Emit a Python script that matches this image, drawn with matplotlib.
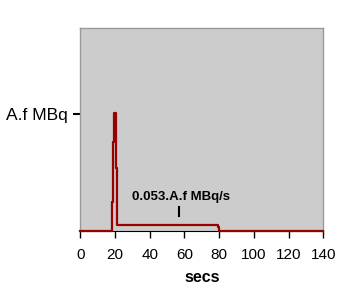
import matplotlib.pyplot as plt
import matplotlib

matplotlib.rcParams["font.family"] = ["Liberation Sans", "DejaVu Sans"]

# activity curve, in units of A.f MBq (step shape)
times = [0, 18.5, 19.1, 19.6, 20.6, 20.9, 79.2, 79.7, 140]
activity = [0, 0.25, 0.76, 1.01, 0.54, 0.053, 0.035, 0, 0]
x_ticks = [0, 20, 40, 60, 80, 100, 120, 140]
y_tick = 1.0
y_tick_label = "A.f MBq"
note_text = "0.053.A.f MBq/s"
note_x = 56.8

fig = plt.figure(figsize=(3.54, 3.04), dpi=100)
ax = fig.add_axes([0.2268, 0.2401, 0.6864, 0.6668])
ax.set_facecolor("#cccccc")

ax.plot(times, activity, drawstyle="steps-post", color="#990000", lw=1.6,
        clip_on=False, zorder=5)

ax.set_xlim(0, 140)
ax.set_ylim(0, 1.73)
ax.set_xticks(x_ticks)
ax.set_xticklabels([str(t) for t in x_ticks], fontsize=11)
ax.set_yticks([y_tick])
ax.set_yticklabels([y_tick_label], fontsize=12.5)
ax.tick_params(axis="x", direction="out", length=5, width=1, pad=7, colors="black")
ax.tick_params(axis="y", direction="out", length=5, width=1.5, pad=4, colors="black")

for side in ["left", "top", "right"]:
    ax.spines[side].set_color("#999999")
    ax.spines[side].set_linewidth(1)
ax.spines["bottom"].set_color("black")

ax.set_xlabel("secs", fontsize=11.5, fontweight="bold", labelpad=6)

ax.text(note_x + 1.3, 0.29, note_text, ha="center", va="center",
        fontsize=9.5, fontweight="bold")
ax.plot([note_x, note_x], [0.128, 0.205], color="black", lw=1.5)

plt.savefig("out.png", dpi=100)
